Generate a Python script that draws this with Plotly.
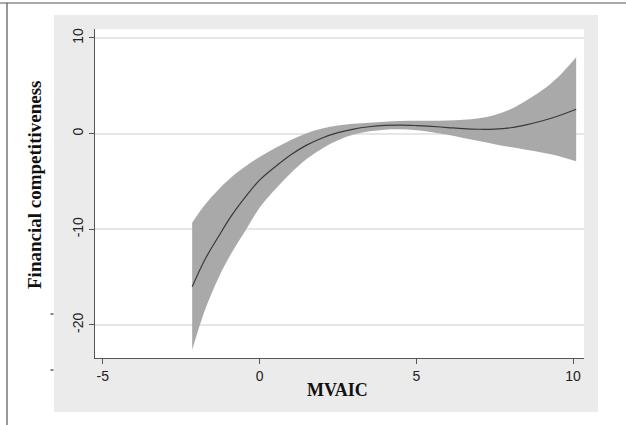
import plotly.graph_objects as go

# Data
mvaic = [-2.15, -1.75, -1.3, -0.9, -0.4, 0.0, 0.5, 1.0, 1.5, 2.0, 2.5, 3.0, 3.5,
         4.0, 4.5, 5.0, 5.5, 6.0, 6.5, 7.0, 7.5, 8.0, 8.5, 9.0, 9.5, 10.1]
fit = [-16.0, -13.2, -10.7, -8.6, -6.4, -4.85, -3.45, -2.2, -1.2, -0.45, 0.1, 0.48, 0.72,
       0.86, 0.9, 0.85, 0.76, 0.64, 0.52, 0.46, 0.48, 0.62, 0.92, 1.32, 1.82, 2.55]
ci_upper = [-9.3, -7.45, -5.8, -4.55, -3.3, -2.45, -1.5, -0.65, 0.05, 0.54, 0.85, 1.03, 1.15,
            1.25, 1.32, 1.35, 1.35, 1.38, 1.45, 1.6, 1.95, 2.55, 3.45, 4.5, 5.85, 8.0]
ci_lower = [-22.6, -18.5, -15.0, -12.5, -9.85, -7.75, -5.8, -4.1, -2.65, -1.55, -0.7, -0.1, 0.25,
            0.42, 0.45, 0.35, 0.15, -0.12, -0.45, -0.78, -1.1, -1.4, -1.68, -1.97, -2.3, -2.88]

x_ticks = [-5, 0, 5, 10]
x_ticktext = ["-5", "0", "5", "10"]
y_ticks = [-20, -10, 0, 10]
y_ticktext = ["-20", "-10", "0", "10"]

W, H = 626, 425
L, R, T, B = 95, 584, 29, 358  # plot area in pixels


def px(x):
    return (x - L) / (R - L)


def py(y):
    return (B - y) / (B - T)


fig = go.Figure()
fig.add_trace(go.Scatter(x=mvaic, y=ci_upper, mode="lines", line=dict(width=0, shape="spline"),
                         hoverinfo="skip", showlegend=False))
fig.add_trace(go.Scatter(x=mvaic, y=ci_lower, mode="lines", line=dict(width=0, shape="spline"),
                         fill="tonexty", fillcolor="#a9a9a9", hoverinfo="skip", showlegend=False))
fig.add_trace(go.Scatter(x=mvaic, y=fit, mode="lines",
                         line=dict(color="#3a3a3a", width=1.2, shape="spline"), showlegend=False))

shapes = [
    # grey outer panel
    dict(type="rect", xref="paper", yref="paper", x0=px(54), x1=px(598), y0=py(412), y1=py(15),
         fillcolor="#ebebeb", line=dict(width=0), layer="below"),
    # white plot region
    dict(type="rect", xref="paper", yref="paper", x0=0, x1=1, y0=0, y1=1,
         fillcolor="white", line=dict(width=0), layer="below"),
    # frame lines (top and left)
    dict(type="line", xref="paper", yref="paper", x0=px(0), x1=px(626), y0=py(3), y1=py(3),
         line=dict(color="#555555", width=1.2)),
    dict(type="line", xref="paper", yref="paper", x0=px(7), x1=px(7), y0=py(3), y1=py(425),
         line=dict(color="#555555", width=1.2)),
    # small stray marks left of the panel
    dict(type="line", xref="paper", yref="paper", x0=px(50.5), x1=px(53.5), y0=py(314), y1=py(314),
         line=dict(color="#333333", width=1.2)),
    dict(type="line", xref="paper", yref="paper", x0=px(50.5), x1=px(53.5), y0=py(370), y1=py(370),
         line=dict(color="#333333", width=1.2)),
]

annotations = [
    dict(text="<b>Financial competitiveness</b>", xref="paper", yref="paper",
         x=px(35), y=py(185), textangle=-90, showarrow=False, xanchor="center", yanchor="middle",
         font=dict(family="Liberation Serif", size=19, color="#111111")),
    dict(text="<b>MVAIC</b>", xref="paper", yref="paper",
         x=px(337), y=py(390), showarrow=False, xanchor="center", yanchor="middle",
         font=dict(family="Liberation Serif", size=18, color="#111111")),
]

fig.update_layout(
    width=W, height=H,
    margin=dict(l=L, r=W - R, t=T, b=H - B, pad=0),
    paper_bgcolor="white", plot_bgcolor="white",
    shapes=shapes, annotations=annotations,
    showlegend=False,
    font=dict(family="Liberation Sans", size=14, color="#222222"),
)
fig.update_xaxes(range=[-5.25, 10.35], tickvals=x_ticks, ticktext=x_ticktext,
                 showgrid=False, zeroline=False, showline=True, linecolor="#555555", linewidth=1,
                 ticks="outside", ticklen=5, tickcolor="#555555", tickwidth=1,
                 tickfont=dict(family="Liberation Sans", size=14, color="#222222"))
fig.update_yaxes(range=[-23.45, 10.94], tickvals=y_ticks, ticktext=y_ticktext, tickangle=-90,
                 showgrid=True, gridcolor="#e6e6e6", gridwidth=1.5, zeroline=False,
                 showline=True, linecolor="#555555", linewidth=1,
                 ticks="outside", ticklen=5, tickcolor="#555555", tickwidth=1,
                 tickfont=dict(family="Liberation Sans", size=14, color="#222222"))

fig.write_html("out.html", config={"displayModeBar": False},
               post_script="document.body.style.margin='0';")
